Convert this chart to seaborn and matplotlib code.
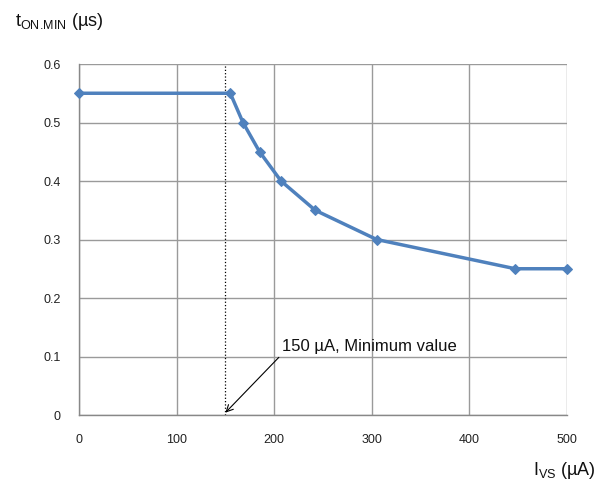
import pandas as pd
import seaborn as sns
import matplotlib.pyplot as plt

# Data
i_vs = [0, 155, 168, 185, 207, 242, 305, 447, 500]        # uA
t_on_min = [0.55, 0.55, 0.50, 0.45, 0.40, 0.35, 0.30, 0.25, 0.25]  # us
min_current = 150
x_ticks = [0, 100, 200, 300, 400, 500]
y_ticks = [0, 0.1, 0.2, 0.3, 0.4, 0.5, 0.6]

df = pd.DataFrame({'I_VS': i_vs, 't_ON_MIN': t_on_min})

sns.set_style('white')
plt.rcParams['font.family'] = ['Liberation Sans', 'DejaVu Sans']

fig = plt.figure(figsize=(6.05, 4.86), dpi=100)
ax = fig.add_axes([79 / 605, 1 - 415 / 486, (567 - 79) / 605, (415 - 64) / 486])

sns.lineplot(data=df, x='I_VS', y='t_ON_MIN', ax=ax, color='#4F81BD',
             linewidth=2.5, marker='D', markersize=5.5, markeredgecolor='#4F81BD',
             clip_on=False, zorder=3)

ax.set_xlim(0, 500)
ax.set_ylim(0, 0.6)
ax.set_xticks(x_ticks)
ax.set_yticks(y_ticks)
ax.set_xticklabels([str(v) for v in x_ticks])
ax.set_yticklabels(['0', '0.1', '0.2', '0.3', '0.4', '0.5', '0.6'])
ax.grid(True, color='#9A9A9A', linewidth=1)
ax.set_axisbelow(True)
ax.set_xlabel('')
ax.set_ylabel('')

for s in ['top', 'right']:
    ax.spines[s].set_visible(False)
for s in ['left', 'bottom']:
    ax.spines[s].set_color('#888888')
    ax.spines[s].set_linewidth(1)
ax.tick_params(axis='both', direction='out', length=5, width=1, color='#888888',
               labelsize=9, labelcolor='#222222')
ax.tick_params(axis='y', pad=8)
ax.tick_params(axis='x', pad=9)

# minimum current marker
ax.axvline(min_current, color='black', linestyle=':', linewidth=0.9, zorder=1)
ax.annotate('150 µA, Minimum value', xy=(min_current, 0.004), xytext=(208, 0.117),
            fontsize=12, color='#111111', va='center', ha='left',
            arrowprops=dict(arrowstyle='->', color='black', lw=0.8,
                            relpos=(0, 0), shrinkA=0, shrinkB=0))

fig.text(15 / 605, 1 - 22 / 486, r'$\mathregular{t_{ON.\!MIN}}$ (µs)', fontsize=13,
         va='center', ha='left', color='#111111')
fig.text(533 / 605, 1 - 470 / 486, r'$\mathregular{I_{VS}}$ (µA)', fontsize=13,
         va='center', ha='left', color='#111111')

plt.savefig('out.png', dpi=100)
